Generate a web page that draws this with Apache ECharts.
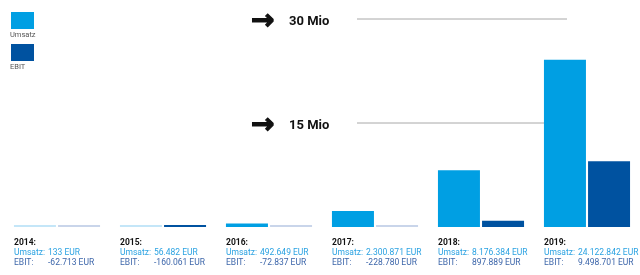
<!DOCTYPE html>
<html><head><meta charset="utf-8">
<script src="https://cdn.jsdelivr.net/npm/echarts@6/dist/echarts.min.js"></script>
<style>html,body{margin:0;padding:0;background:#fff}#c{width:640px;height:275px}</style>
</head><body><div id="c"></div>
<script>
const years = ['2014', '2015', '2016', '2017', '2018', '2019'];
const umsatz = [133, 56482, 492649, 2300871, 8176384, 24122842];
const ebit = [-62713, -160061, -72837, -228780, 897889, 9498701];
const refValues = [15000000, 30000000];
const refLabels = ['15 Mio', '30 Mio'];
const seriesNames = ['Umsatz', 'EBIT'];

const COL_U = '#009fe3', COL_E = '#0052a0';
const FADE_U = '#c4e6f8', FADE_E = '#c9d5ea';
const TXT_U = '#2aa2e2', TXT_E = '#3d66aa';
const solidSmall = { EBIT: ['2015'] };
const FONT = 'Roboto, "Liberation Sans", sans-serif';

function fmt(v) {
  const s = String(Math.abs(v)).replace(/\B(?=(\d{3})+(?!\d))/g, '.');
  return (v < 0 ? '-' : '') + s + ' EUR';
}
function items(vals, name, col, fade) {
  return vals.map((v, i) => {
    const small = v < 0 || v < 100000;
    const keep = (solidSmall[name] || []).includes(years[i]);
    return { value: Math.abs(v), itemStyle: { color: small && !keep ? fade : col } };
  });
}

const chart = echarts.init(document.getElementById('c'), null, { renderer: 'canvas' });
chart.setOption({
  animation: false,
  grid: { left: 4, right: -2, top: 19, bottom: 48, containLabel: false },
  xAxis: { type: 'category', data: years, show: false },
  yAxis: { type: 'value', min: 0, max: 30000000, show: false },
  series: [
    { name: seriesNames[0], type: 'bar', data: items(umsatz, 'Umsatz', COL_U, FADE_U),
      barWidth: 42, barGap: '5%', barMinHeight: 2, z: 5 },
    { name: seriesNames[1], type: 'bar', data: items(ebit, 'EBIT', COL_E, FADE_E),
      barWidth: 42, barGap: '5%', barMinHeight: 2, z: 5 }
  ]
});

const g = [];
// legend
[[COL_U, seriesNames[0], 12], [COL_E, seriesNames[1], 44]].forEach(([c, n, y]) => {
  g.push({ type: 'rect', shape: { x: 11, y: y, width: 23, height: 17 }, style: { fill: c } });
  g.push({ type: 'text', x: 10, y: y + 19, style: { text: n, fill: '#555', font: '7.5px ' + FONT, textVerticalAlign: 'top' } });
});
// reference lines
refValues.forEach((v, k) => {
  const y = chart.convertToPixel({ yAxisIndex: 0 }, v);
  g.push({ type: 'line', z: 0, shape: { x1: 357, y1: y, x2: 567, y2: y }, style: { stroke: '#a8a8a8', lineWidth: 1 } });
  g.push({ type: 'text', x: 251, y: y + 3, style: { text: '→', fill: '#111', stroke: '#111', lineWidth: 1.2, font: 'bold 28px "DejaVu Sans"', textVerticalAlign: 'middle' } });
  g.push({ type: 'text', x: 289, y: y + 3, style: { text: refLabels[k], fill: '#111', font: 'bold 13px ' + FONT, textVerticalAlign: 'middle' } });
});
// bottom labels
years.forEach((yr, i) => {
  const cx = chart.convertToPixel({ xAxisIndex: 0 }, yr);
  const x0 = cx - 43;
  g.push({ type: 'text', x: x0, y: 243, style: { text: yr + ':', fill: '#111', font: 'bold 8.5px ' + FONT, textVerticalAlign: 'middle' } });
  g.push({ type: 'text', x: x0, y: 253, style: { text: 'Umsatz:', fill: TXT_U, font: '8.5px ' + FONT, textVerticalAlign: 'middle' } });
  g.push({ type: 'text', x: x0 + 34, y: 253, style: { text: fmt(umsatz[i]), fill: TXT_U, font: '8.5px ' + FONT, textVerticalAlign: 'middle' } });
  g.push({ type: 'text', x: x0, y: 263, style: { text: 'EBIT:', fill: TXT_E, font: '8.5px ' + FONT, textVerticalAlign: 'middle' } });
  g.push({ type: 'text', x: x0 + 34, y: 263, style: { text: fmt(ebit[i]), fill: TXT_E, font: '8.5px ' + FONT, textVerticalAlign: 'middle' } });
});
chart.setOption({ graphic: { elements: g } });
</script></body></html>
